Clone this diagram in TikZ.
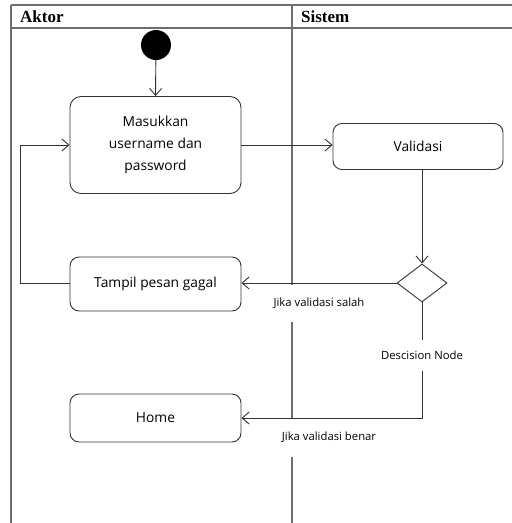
\documentclass[tikz,border=0pt]{standalone}
\usepackage{fontspec}
\setmainfont{Liberation Serif}
\newfontfamily\uifont{Open Sans}
\usetikzlibrary{shapes.geometric,arrows.meta,calc}
\definecolor{framec}{HTML}{6E6E6E}
\definecolor{linec}{HTML}{333333}
\tikzset{
  actbox/.style={draw=linec, line width=0.9pt, rounded corners=9pt, fill=white, align=center,
    font=\uifont\fontsize{13.8}{22}\selectfont, inner sep=0pt},
  conn/.style={draw=linec, line width=0.9pt},
  arr/.style={conn, -{Straight Barb[length=7pt,width=12pt,line width=0.9pt]}},
  lbl/.style={fill=white, font=\uifont\fontsize{11.3}{13}\selectfont, inner xsep=1pt},
  framel/.style={draw=framec, line width=1.4pt},
  hdr/.style={font=\bfseries\fontsize{17}{19}\selectfont, anchor=west, inner sep=0pt}
}
\begin{document}
\begin{tikzpicture}[x=1pt,y=-1pt]
\useasboundingbox (0,0) rectangle (512,523);
% frame
\draw[framel] (11,5) -- (512,5);
\draw[framel] (11,28) -- (512,28);
\draw[framel] (11,5) -- (11,523);
\draw[framel] (292,5) -- (292,523);
\node[hdr] (haktor) at (20,17) {Aktor};
\node[hdr] (hsistem) at (301,17) {Sistem};
% labels that interrupt the divider
\node[lbl, minimum height=37pt] (salah) at (319,303) {Jika validasi salah};
\node[lbl, minimum height=39pt] (benar) at (329,437.5) {Jika validasi benar};
% nodes
\node[circle, fill=black, minimum size=30pt, inner sep=0pt] (start) at (156,45) {};
\node[actbox, minimum width=171pt, minimum height=97pt, rounded corners=11pt] (mas) at (155.5,145) {Masukkan\\username dan\\password};
\node[actbox, minimum width=170pt, minimum height=46pt] (val) at (418,146.5) {Validasi};
\node[diamond, draw=linec, line width=0.9pt, fill=white, minimum width=50pt, minimum height=38pt, inner sep=0pt] (dia) at (422,283) {};
\node[actbox, minimum width=171pt, minimum height=54pt] (tam) at (155.5,284) {Tampil pesan gagal};
\node[actbox, minimum width=171pt, minimum height=48pt] (home) at (155.5,418) {Home};
\coordinate (loopc) at (20,283);
% connectors
\draw[arr] (start) -- (mas.north);
\draw[arr] (mas.east) -- (mas.east -| val.west);
\draw[arr] (dia.north |- val.south) -- (dia.north);
\draw[arr] (dia.west) -- (dia.west -| tam.east);
\draw[arr] (tam.west |- loopc) -- (loopc) |- (mas.west);
\draw[arr] (dia.south) |- (home.east);
\node[lbl, minimum height=31pt] (desc) at (422,355) {Descision Node};
\end{tikzpicture}
\end{document}
